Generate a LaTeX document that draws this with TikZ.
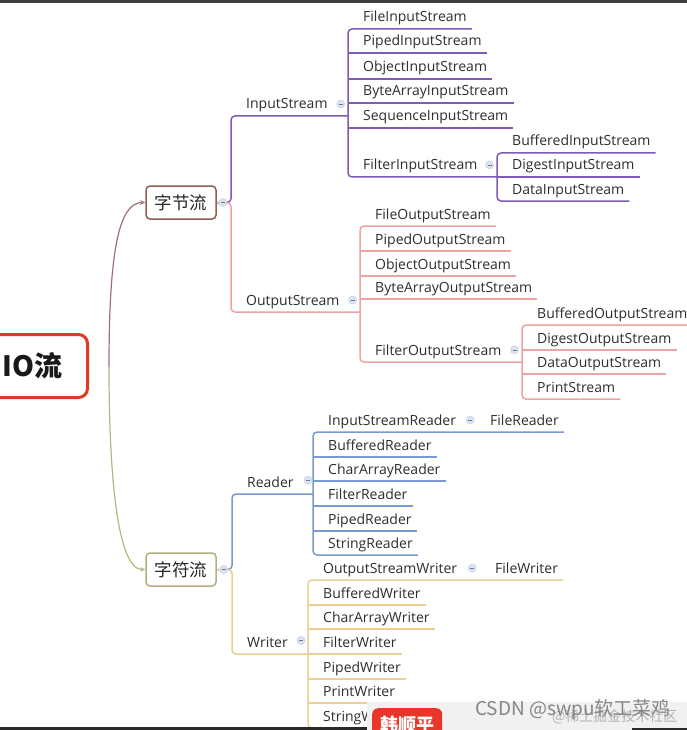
\documentclass[tikz,border=0pt]{standalone}
\usepackage{fontspec}
\setmainfont{Open Sans}
\newfontfamily\cjk{Noto Sans CJK SC}
\usetikzlibrary{arrows.meta,calc}
\definecolor{txt}{HTML}{2E2E2E}
\definecolor{cIn}{HTML}{7E5CB2}
\definecolor{cOut}{HTML}{EBA4A4}
\definecolor{cRd}{HTML}{789ACE}
\definecolor{cWr}{HTML}{EBCF96}
\definecolor{cRoot}{HTML}{E03A26}
\definecolor{cByte}{HTML}{8E5E55}
\definecolor{cChar}{HTML}{B3B07E}
\definecolor{cCurveA}{HTML}{A07075}
\definecolor{cCurveB}{HTML}{B8B680}
\definecolor{togfill}{HTML}{DCE4F2}
\definecolor{togdraw}{HTML}{B9C7E0}
\definecolor{badge}{HTML}{E8372A}
\definecolor{veil}{HTML}{F1F1F1}
\definecolor{darkbar}{HTML}{2A2A2A}
\tikzset{
  lbl/.style={font=\fontsize{14}{16}\selectfont, text=txt, inner sep=0pt},
  br/.style={line width=1.5pt, rounded corners=4pt},
  tog/.style={circle, fill=togfill, draw=togdraw, line width=0.4pt, minimum size=8pt, inner sep=0pt,
    path picture={\draw[togdraw!60!black, line width=0.6pt]
      ([xshift=-2pt]path picture bounding box.center) -- ([xshift=2pt]path picture bounding box.center);}},
  cbox/.style={rectangle, rounded corners=4pt, line width=1.5pt, fill=white, minimum width=70pt,
    minimum height=33pt, inner sep=0pt, text=black!85, font=\cjk\fontsize{17.5}{18}\selectfont},
  curve/.style={line width=1.2pt, -{Stealth[length=5pt,width=4.5pt]}},
}
\newcommand\leafnode[4]{%
  \node[lbl, anchor=base west] (#1) at ($(#2)+(15,#3-7)$) {#4};
  \coordinate (#1-e) at ([xshift=5pt,yshift=-7pt]#1.base east);}
\newcommand\leaf[5]{\leafnode{#1}{#2}{#3}{#4}\draw[br,#5] (#2 |- #1-e) -- (#1-e);}
\begin{document}
\begin{tikzpicture}[x=1pt,y=-1pt]
\useasboundingbox (0,0) rectangle (687,730);
\clip (0,0) rectangle (687,730);
\fill[white] (0,0) rectangle (687,730);

% spines
\coordinate (sB) at (231,0);
\coordinate (sC) at (232,0);
\coordinate (sIn) at (348,0);
\coordinate (sFI) at (497,0);
\coordinate (sOut) at (360,0);
\coordinate (sFO) at (522,0);
\coordinate (sRd) at (313,0);
\coordinate (sISR) at (475,0);
\coordinate (sWr) at (308,0);
\coordinate (sOSW) at (480,0);
\coordinate (root) at (109,367);

% root and main topics
\node[draw=cRoot, line width=3pt, rounded corners=9pt, anchor=east, minimum height=63pt,
      text width=80pt, align=right, inner xsep=25pt, inner ysep=0pt,
      font=\cjk\bfseries\fontsize{28}{30}\selectfont, text=black!90] (io) at (89,366) {IO流};
\node[cbox, draw=cByte] (byte) at (181,202.5) {字节流};
\node[cbox, draw=cChar] (char) at (181,569.5) {字符流};
\draw[curve, cCurveA] (root) .. controls (109,255) and (118,202.5) .. (byte.west);
\draw[curve, cCurveB] (root) .. controls (109,480) and (118,569.5) .. (char.west);

% ---------- InputStream ----------
\leafnode{is}{sB}{116}{InputStream}
\draw[br,cIn] (byte.east) -- (sB |- byte.east) -- (sB |- is-e) -- (sIn |- is-e);
\leafnode{fis}{sIn}{29}{FileInputStream}
\leaf{pis}{sIn}{53}{PipedInputStream}{cIn}
\leaf{ois}{sIn}{79}{ObjectInputStream}{cIn}
\leaf{bais}{sIn}{103}{ByteArrayInputStream}{cIn}
\leaf{sis}{sIn}{128}{SequenceInputStream}{cIn}
\leafnode{filis}{sIn}{177}{FilterInputStream}
\draw[br,cIn] (fis-e) -- (sIn |- fis-e) -- (sIn |- filis-e) -- (sFI |- filis-e);
\leafnode{bis}{sFI}{153}{BufferedInputStream}
\leaf{dis}{sFI}{177}{DigestInputStream}{cIn}
\leafnode{datis}{sFI}{201}{DataInputStream}
\draw[br,cIn] (bis-e) -- (sFI |- bis-e) -- (sFI |- datis-e) -- (datis-e);

% ---------- OutputStream ----------
\leafnode{os}{sB}{312}{OutputStream}
\draw[br,cOut] (byte.east) -- (sB |- byte.east) -- (sB |- os-e) -- (sOut |- os-e);
\leafnode{fos}{sOut}{226}{FileOutputStream}
\leaf{pos}{sOut}{251}{PipedOutputStream}{cOut}
\leaf{oos}{sOut}{276}{ObjectOutputStream}{cOut}
\leaf{baos}{sOut}{299}{ByteArrayOutputStream}{cOut}
\leafnode{filos}{sOut}{362}{FilterOutputStream}
\draw[br,cOut] (fos-e) -- (sOut |- fos-e) -- (sOut |- filos-e) -- (sFO |- filos-e);
\leafnode{bos}{sFO}{325}{BufferedOutputStream}
\leaf{dos}{sFO}{350}{DigestOutputStream}{cOut}
\leaf{datos}{sFO}{374}{DataOutputStream}{cOut}
\leafnode{ps}{sFO}{399}{PrintStream}
\draw[br,cOut] (bos-e) -- (sFO |- bos-e) -- (sFO |- ps-e) -- (ps-e);

% ---------- Reader ----------
\leafnode{rd}{sC}{494}{Reader}
\draw[br,cRd] (char.east) -- (sC |- char.east) -- (sC |- rd-e) -- (sRd |- rd-e);
\leafnode{isr}{sRd}{432}{InputStreamReader}
\leafnode{fr}{sISR}{432}{FileReader}
\leaf{bufr}{sRd}{457}{BufferedReader}{cRd}
\leaf{car}{sRd}{481}{CharArrayReader}{cRd}
\leaf{flr}{sRd}{506}{FilterReader}{cRd}
\leaf{pr}{sRd}{531}{PipedReader}{cRd}
\leafnode{sr}{sRd}{555}{StringReader}
\draw[br,cRd] (fr-e) -- (sRd |- fr-e) -- (sRd |- sr-e) -- (sr-e);

% ---------- Writer ----------
\leafnode{wr}{sC}{654}{Writer}
\draw[br,cWr] (char.east) -- (sC |- char.east) -- (sC |- wr-e) -- (sWr |- wr-e);
\leafnode{osw}{sWr}{580}{OutputStreamWriter}
\leafnode{fw}{sOSW}{580}{FileWriter}
\leaf{bw}{sWr}{605}{BufferedWriter}{cWr}
\leaf{caw}{sWr}{629}{CharArrayWriter}{cWr}
\leaf{flw}{sWr}{654}{FilterWriter}{cWr}
\leaf{pw}{sWr}{679}{PipedWriter}{cWr}
\leaf{prw}{sWr}{703}{PrintWriter}{cWr}
\leafnode{sw}{sWr}{728}{StringWriter}
\draw[br,cWr] (fw-e) -- (sWr |- fw-e) -- (sWr |- sw-e) -- (sw-e);

% ---------- collapse toggles ----------
\node[tog] (t-byte) at ([xshift=6pt]byte.east) {};
\node[tog] (t-char) at ([xshift=7pt]char.east) {};
\node[tog] (t-is) at ([xshift=13pt,yshift=1.5pt]is.east) {};
\node[tog] (t-filis) at ([xshift=12pt,yshift=1.5pt]filis.east) {};
\node[tog] (t-os) at ([xshift=13pt,yshift=1.5pt]os.east) {};
\node[tog] (t-filos) at ([xshift=13pt,yshift=1.5pt]filos.east) {};
\node[tog] (t-rd) at ([xshift=14pt,yshift=1.5pt]rd.east) {};
\node[tog] (t-isr) at ([xshift=14pt,yshift=1.5pt]isr.east) {};
\node[tog] (t-wr) at ([xshift=13pt,yshift=1.5pt]wr.east) {};
\node[tog] (t-osw) at ([xshift=15pt,yshift=1.5pt]osw.east) {};

% ---------- screen overlays ----------
\fill[darkbar!90] (0,0) rectangle (687,3);
\fill[veil] (367,702) rectangle (687,730);
\node[fill=badge, rounded corners=6pt, anchor=north west, minimum width=70pt, minimum height=32pt,
      inner sep=0pt, text=white, font=\cjk\bfseries\fontsize{18}{18}\selectfont] (badgeN) at (372,708) {韩顺平};
\node[anchor=west, inner sep=0pt, text=black!30, font=\cjk\fontsize{14}{14}\selectfont] (wm) at (552,717) {@稀土掘金技术社区};
\node[anchor=west, inner sep=0pt, text=black!48, font=\cjk\fontsize{19}{19}\selectfont] (csdn) at (475,710) {CSDN @swpu软工菜鸡};
\fill[darkbar] (0,727) rectangle (367,730);
\fill[darkbar] (632,728) rectangle (687,730);
\end{tikzpicture}
\end{document}
